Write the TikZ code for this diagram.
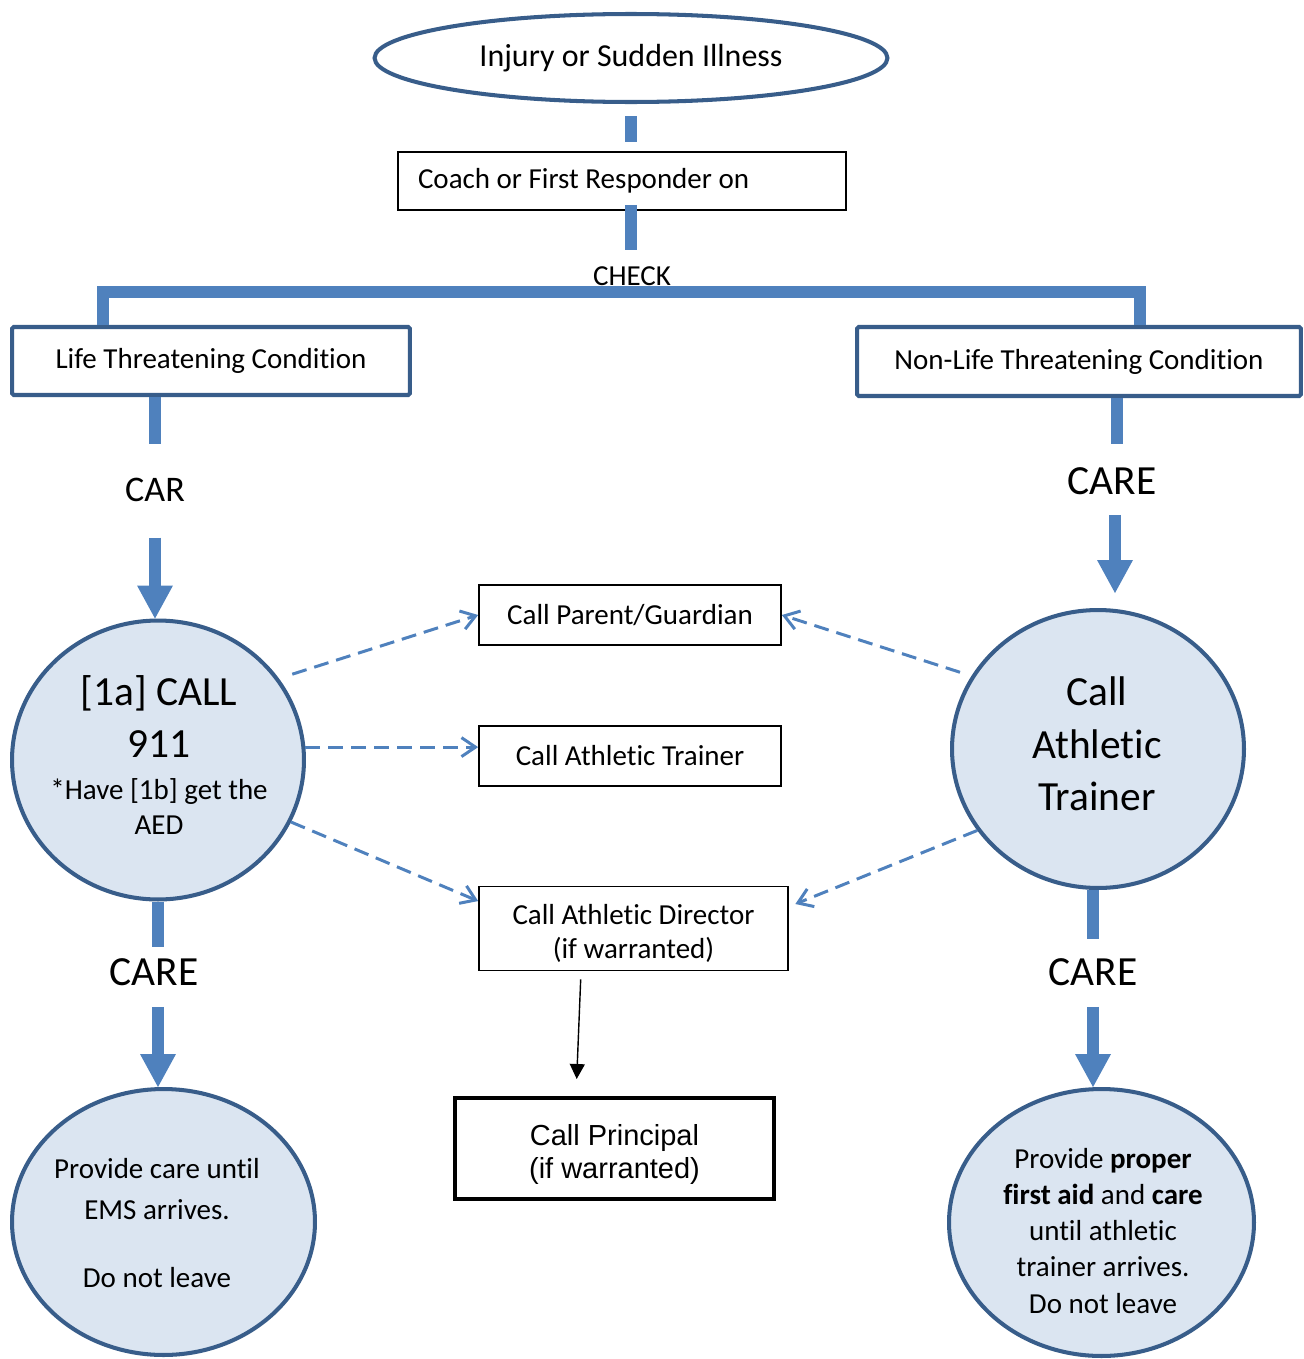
\documentclass[tikz,border=0pt]{standalone}
\usepackage{fontspec}
\setmainfont{Carlito}[Ligatures={NoCommon,NoContextual}, Contextuals=NoAlternate]
\newfontfamily\arialfont{Liberation Sans}
\usepackage{tikz}
\usetikzlibrary{arrows.meta,positioning,shapes.geometric}
\definecolor{barblue}{RGB}{79,129,189}
\definecolor{edgeblue}{RGB}{56,93,138}
\definecolor{bubblefill}{RGB}{219,229,241}
\newcommand{\fsNormal}{\fontsize{16.5}{19.9}\selectfont}
\newcommand{\fsOval}{\fontsize{18.2}{22}\selectfont}
\newcommand{\fsBig}{\fontsize{23.6}{29.9}\selectfont}
\newcommand{\fsCar}{\fontsize{20.5}{24}\selectfont}

\begin{document}
\begin{tikzpicture}[x=0.02cm, y=-0.02cm,
		thickbar/.style={draw=barblue, line width=6.3pt},
		bigarrow/.style={thickbar, -{Triangle[length=0.66cm, width=0.72cm, line width=0pt]}},
		dasharrow/.style={draw=barblue, line width=1.7pt, dash pattern=on 0.3cm off 0.16cm, -{Straight Barb[length=0.28cm, width=0.38cm]}},
		bluebox/.style={draw=edgeblue, line width=2.3pt, rounded corners=1pt, fill=white, font=\fsNormal},
		callbox/.style={draw, line width=1pt, align=center, font=\fsNormal},
		bubble/.style={ellipse, draw=edgeblue, line width=2.3pt, fill=bubblefill},
		tag/.style={inner sep=0pt}]
			\useasboundingbox (0,0) rectangle (1304,1359);
			
			\node[ellipse, draw=edgeblue, line width=2.3pt, minimum width=10.26cm, minimum height=1.76cm, font=\fsOval] (injury) at (631,58) {Injury or Sudden Illness};
			\node[draw, line width=1pt, minimum width=8.96cm, minimum height=1.16cm, text width=8.16cm, inner xsep=0.4cm, align=flush left, font=\fsNormal] (coach) at (622,181) {Coach or First Responder on};
			\node[tag, font=\fsNormal] (check) at (632,276) {CHECK};
			\coordinate (fork) at (632,292);
			
			\node[bluebox, minimum width=7.96cm, minimum height=1.36cm] (life) at (211,361) {Life Threatening Condition};
			\node[bluebox, minimum width=8.88cm, minimum height=1.38cm] (nonlife) at (1079,361.5) {Non-Life Threatening Condition};
			
			\node[tag, font=\fsCar] (car) at (155,490) {CAR};
			\node[tag, font=\fsBig] (care1) at (1112,481) {CARE};
			\node[tag, font=\fsBig] (care2) at (154,972) {CARE};
			\node[tag, font=\fsBig] (care3) at (1093,972) {CARE};
			
			\node[bubble, minimum width=5.84cm, minimum height=5.58cm] (call911) at (158,760) {};
			\node[align=center, font=\fsBig] (call911txt) at (159,755) {[1a] CALL\\911\\[-6pt]{\fsNormal *Have [1b] get the}\\[-10pt]{\fsNormal AED}};
			\node[bubble, minimum width=5.84cm, minimum height=5.56cm] (trainer) at (1098,749) {};
			\node[align=center, font=\fsBig] (trainertxt) at (1097,744) {Call\\Athletic\\Trainer};
			
			\node[bubble, minimum width=6.06cm, minimum height=5.32cm] (ems) at (163.5,1222) {};
			\node[align=center, font=\fsNormal] (emstxt) at (157,1223) {Provide care until\\[3.4pt]EMS arrives.\\[18.8pt]Do not leave};
			\node[bubble, minimum width=6.1cm, minimum height=5.34cm] (firstaid) at (1101.5,1222.5) {};
			\node[align=center, font=\fontsize{16.5}{20.5}\selectfont] (firstaidtxt) at (1103,1231) {Provide \textbf{proper}\\\textbf{first aid} and \textbf{care}\\until athletic\\trainer arrives.\\Do not leave};
			
			\node[callbox, minimum width=6.04cm, minimum height=1.2cm] (parent) at (630,615) {Call Parent/Guardian};
			\node[callbox, minimum width=6.04cm, minimum height=1.2cm, below=1.58cm of parent] (atbox) {Call Athletic Trainer};
			\node[callbox, minimum width=6.18cm, minimum height=1.68cm, below=1.98cm of atbox, xshift=0.07cm] (director) {};
			\node[align=center, font=\fsNormal] (directortxt) at ([yshift=-0.1cm]director.center) {Call Athletic Director\\[-1pt](if warranted)};
			\node[draw, line width=2.3pt, minimum width=6.38cm, minimum height=2.02cm] (principal) at (614.5,1148.5) {};
			\node[align=center, font=\arialfont\fontsize{16.5}{18.8}\selectfont] (principaltxt) at (614.5,1154) {Call Principal\\(if warranted)};
			
			\draw[thickbar, shorten <=0.24cm, shorten >=0.18cm] (injury.south) -- (injury.south |- coach.north);
			\draw[thickbar, shorten <=-0.12cm, shorten >=0.33cm] (coach.south -| injury.south) -- (injury.south |- check.north);
			\draw[thickbar] ([xshift=1.86cm]life.north west) |- (fork) -| ([xshift=-3.26cm]nonlife.north east);
			
			\draw[thickbar, shorten >=0.67cm] (car.north |- life.south) -- (car.north);
			\draw[bigarrow, shorten <=0.71cm] (car.south) -- (car.south |- call911.north);
			\draw[thickbar, shorten >=0.22cm] (call911.south) -- (call911.south |- care2.north);
			\draw[bigarrow, shorten <=0.42cm] (call911.south |- care2.south) -- (call911.south |- ems.north);
			
			\draw[thickbar, shorten >=0.46cm] ([xshift=0.1cm]care1.north |- nonlife.south) -- ([xshift=0.1cm]care1.north);
			\draw[bigarrow, shorten <=0.4cm, shorten >=0.3cm] ([xshift=0.06cm]care1.south) -- ([xshift=0.06cm]care1.south |- trainer.north);
			\draw[thickbar, shorten >=0.38cm] (care3.north |- trainer.south) -- (care3.north);
			\draw[bigarrow, shorten <=0.42cm] (care3.south) -- (care3.south |- firstaid.north);
			
			\draw[dasharrow, shorten <=0.28cm] (call911.34) -- (parent.west);
			\draw[dasharrow] (call911.5) -- (call911.5 -| atbox.west);
			\draw[dasharrow] (call911.-25) -- (director.170);
			\draw[dasharrow, shorten <=0.24cm] (trainer.150) -- (parent.east);
			\draw[dasharrow, shorten >=0.14cm] (trainer.214) -- (director.8);
			
			\draw[line width=0.8pt, -{Triangle[length=0.3cm, width=0.3cm]}, shorten <=0.16cm, shorten >=0.34cm] ([xshift=-1.05cm]director.south) -- ([xshift=-0.77cm]principal.north);
		\end{tikzpicture}
\end{document}
